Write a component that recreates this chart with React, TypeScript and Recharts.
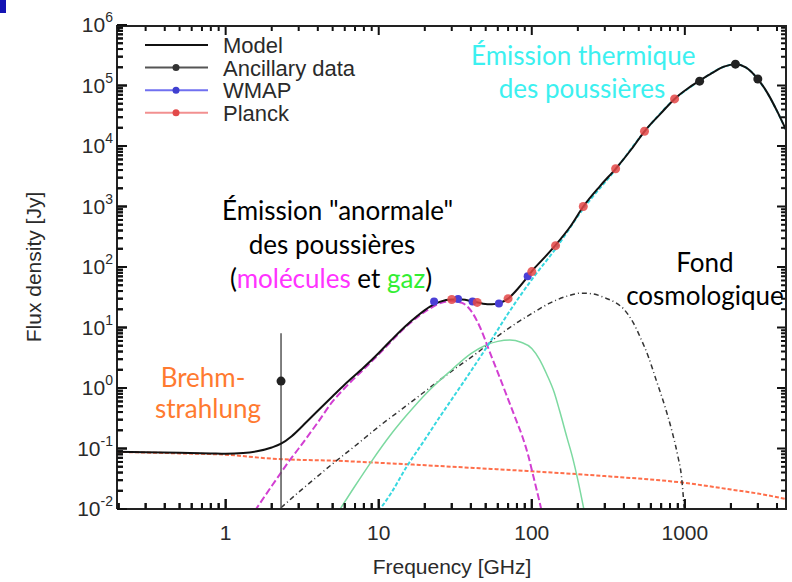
import React from "react";
import { ComposedChart, Line, XAxis, YAxis, Legend } from "recharts";

// frequency [GHz] -> flux density [Jy]
const model = [
  { f: 0.195, v: 0.088 }, { f: 0.3, v: 0.087 }, { f: 0.5, v: 0.085 }, { f: 0.8, v: 0.083 },
  { f: 1, v: 0.082 }, { f: 1.3, v: 0.084 }, { f: 1.6, v: 0.09 }, { f: 2, v: 0.104 },
  { f: 2.3, v: 0.12 }, { f: 2.7, v: 0.16 }, { f: 3.2, v: 0.24 }, { f: 4, v: 0.42 },
  { f: 5, v: 0.73 }, { f: 6, v: 1.14 }, { f: 8, v: 2.2 }, { f: 10, v: 3.8 },
  { f: 12, v: 6.1 }, { f: 15, v: 10.6 }, { f: 18, v: 15.8 }, { f: 21.5, v: 22 },
  { f: 25, v: 26.5 }, { f: 30, v: 29 }, { f: 35, v: 29 }, { f: 41, v: 27 },
  { f: 48, v: 24.8 }, { f: 55, v: 24.2 }, { f: 62, v: 25.5 }, { f: 70, v: 30 },
  { f: 80, v: 42 }, { f: 90, v: 60 }, { f: 100, v: 85 }, { f: 120, v: 140 },
  { f: 143, v: 230 }, { f: 180, v: 480 }, { f: 217, v: 1000 }, { f: 280, v: 2200 },
  { f: 353, v: 4200 }, { f: 450, v: 9000 }, { f: 545, v: 17500 }, { f: 700, v: 35000 },
  { f: 857, v: 60000 }, { f: 1050, v: 90000 }, { f: 1250, v: 120000 }, { f: 1500, v: 160000 },
  { f: 1800, v: 205000 }, { f: 2140, v: 225000 }, { f: 2500, v: 200000 }, { f: 3000, v: 128000 },
  { f: 3500, v: 72000 }, { f: 4000, v: 38000 }, { f: 4650, v: 17000 },
];

const freeFree = [
  { f: 0.195, v: 0.088 }, { f: 0.5, v: 0.083 }, { f: 1, v: 0.079 }, { f: 2, v: 0.068 },
  { f: 3, v: 0.065 }, { f: 5, v: 0.063 }, { f: 10, v: 0.058 }, { f: 30, v: 0.05 },
  { f: 100, v: 0.042 }, { f: 300, v: 0.035 }, { f: 1000, v: 0.027 }, { f: 2000, v: 0.021 },
  { f: 3000, v: 0.018 }, { f: 4650, v: 0.0145 },
];

const spinning = [
  { f: 1.55, v: 0.0093 }, { f: 2, v: 0.024 }, { f: 2.3, v: 0.04 }, { f: 2.62, v: 0.064 },
  { f: 3, v: 0.1 }, { f: 4, v: 0.27 }, { f: 5, v: 0.6 }, { f: 6, v: 1.0 },
  { f: 8, v: 2.05 }, { f: 10, v: 3.6 }, { f: 12, v: 5.8 }, { f: 15, v: 10.2 },
  { f: 18, v: 15 }, { f: 21.5, v: 20.5 }, { f: 25, v: 25 }, { f: 30, v: 27.5 },
  { f: 35, v: 25.5 }, { f: 40, v: 19 }, { f: 46, v: 10 }, { f: 53, v: 4 },
  { f: 60, v: 1.8 }, { f: 69, v: 0.72 }, { f: 78, v: 0.32 }, { f: 87, v: 0.155 },
  { f: 95, v: 0.075 }, { f: 101, v: 0.04 }, { f: 108, v: 0.02 }, { f: 116, v: 0.0093 },
];

const gas = [
  { f: 5.5, v: 0.0093 }, { f: 7, v: 0.024 }, { f: 9, v: 0.062 }, { f: 12, v: 0.17 },
  { f: 15, v: 0.34 }, { f: 21.5, v: 0.93 }, { f: 30, v: 2.0 }, { f: 40, v: 3.7 },
  { f: 50, v: 5.1 }, { f: 60, v: 5.9 }, { f: 72, v: 6.2 }, { f: 85, v: 5.7 },
  { f: 100, v: 4.5 }, { f: 112, v: 3.0 }, { f: 125, v: 1.7 }, { f: 140, v: 0.85 },
  { f: 152, v: 0.42 }, { f: 170, v: 0.15 }, { f: 185, v: 0.07 }, { f: 200, v: 0.03 },
  { f: 220, v: 0.0093 },
];

const thermal = [
  { f: 10, v: 0.0093 }, { f: 12, v: 0.018 }, { f: 15, v: 0.047 }, { f: 20, v: 0.14 },
  { f: 25, v: 0.33 }, { f: 30, v: 0.65 }, { f: 40, v: 1.9 }, { f: 53, v: 5.6 },
  { f: 70, v: 17 }, { f: 100, v: 62 }, { f: 143, v: 200 }, { f: 217, v: 920 },
  { f: 353, v: 4100 }, { f: 545, v: 17300 }, { f: 857, v: 59500 }, { f: 1250, v: 119000 },
  { f: 1800, v: 204000 }, { f: 2140, v: 224000 }, { f: 2500, v: 199000 }, { f: 3000, v: 127000 },
  { f: 3500, v: 71500 }, { f: 4000, v: 37800 }, { f: 4650, v: 16900 },
];

const cmb = [
  { f: 2.3, v: 0.0105 }, { f: 3, v: 0.019 }, { f: 4, v: 0.035 }, { f: 5, v: 0.056 },
  { f: 7, v: 0.11 }, { f: 10, v: 0.23 }, { f: 15, v: 0.5 }, { f: 22, v: 1.05 },
  { f: 30, v: 1.9 }, { f: 45, v: 4.0 }, { f: 60, v: 7.2 }, { f: 80, v: 12 },
  { f: 100, v: 17 }, { f: 130, v: 25 }, { f: 170, v: 33 }, { f: 210, v: 37 },
  { f: 250, v: 36 }, { f: 300, v: 31 }, { f: 350, v: 26 }, { f: 400, v: 20 },
  { f: 460, v: 12 }, { f: 510, v: 7 }, { f: 580, v: 3.2 }, { f: 650, v: 1.35 },
  { f: 740, v: 0.5 }, { f: 830, v: 0.18 }, { f: 900, v: 0.075 }, { f: 950, v: 0.035 },
  { f: 990, v: 0.0105 },
];

const wmap = [
  { f: 23, v: 27 }, { f: 33, v: 29.5 }, { f: 41, v: 27 }, { f: 61, v: 25 }, { f: 94, v: 70 },
];

const planck = [
  { f: 30, v: 29 }, { f: 44, v: 26 }, { f: 70, v: 30 }, { f: 100, v: 84 }, { f: 143, v: 225 },
  { f: 217, v: 1000 }, { f: 353, v: 4200 }, { f: 545, v: 17500 }, { f: 857, v: 60000 },
];

const ancillary = [
  { f: 2.3, v: 1.3 }, { f: 1249, v: 118000 }, { f: 2141, v: 225000 }, { f: 2998, v: 128000 },
];
// error bar of the 2.3 GHz point
const ancillaryErr = [{ f: 2.3, v: 0.0101 }, { f: 2.3, v: 8 }];

const X_DOMAIN = [0.195, 4650];
const Y_DOMAIN = [0.01, 1000000];
const X_MAJOR = [1, 10, 100, 1000];
const X_LABELS = ["1", "10", "100", "1000"];
const X_MINOR = [
  0.2, 0.3, 0.4, 0.5, 0.6, 0.7, 0.8, 0.9, 2, 3, 4, 5, 6, 7, 8, 9,
  20, 30, 40, 50, 60, 70, 80, 90, 200, 300, 400, 500, 600, 700, 800, 900, 2000, 3000, 4000,
];
const Y_MAJOR = [0.01, 0.1, 1, 10, 100, 1000, 10000, 100000, 1000000];
const Y_EXP = ["-2", "-1", "0", "1", "2", "3", "4", "5", "6"];
const Y_MINOR = Y_MAJOR.slice(0, -1).flatMap((m) =>
  [2, 3, 4, 5, 6, 7, 8, 9].map((k) => +(k * m).toPrecision(3))
);

// inward tick marks on the top and right edges, drawn as short segments
// through the chart's own log scales (~10px major / ~6px minor)
const [X0, X1] = X_DOMAIN;
const [Y0, Y1] = Y_DOMAIN;
const xTickSet = [...X_MAJOR.map((f) => [f, 1.463]), ...X_MINOR.map((f) => [f, 1.256])];
const yTickSet = [...Y_MAJOR.map((v) => [v, 1.162]), ...Y_MINOR.map((v) => [v, 1.094])];
const bottomTicks = xTickSet.flatMap(([f, k]) => [{ f, v: Y0 }, { f, v: Y0 * k }, { f, v: null }]);
const topTicks = xTickSet.flatMap(([f, k]) => [{ f, v: Y1 }, { f, v: Y1 / k }, { f, v: null }]);
const leftTicks = yTickSet.flatMap(([v, k]) => [{ f: X0, v }, { f: X0 * k, v }, { f: X0 * k, v: null }]);
const rightTicks = yTickSet.flatMap(([v, k]) => [{ f: X1, v }, { f: X1 / k, v }, { f: X1 / k, v: null }]);
const frameTopRight = [{ f: X0, v: Y1 }, { f: X1, v: Y1 }, { f: X1, v: Y0 }];

const LEGEND_ITEMS = [
  { name: "Model", line: "#111", dot: "" },
  { name: "Ancillary data", line: "#555", dot: "#333" },
  { name: "WMAP", line: "#7070f0", dot: "#4040d0" },
  { name: "Planck", line: "#f29090", dot: "#e24a4a" },
];

const AXIS_FONT = "'Liberation Sans', Arial, sans-serif";
const NOTE_FONT = "Lato, 'Open Sans', sans-serif";
const FRAME = { stroke: "#222", strokeWidth: 2 };
const TICK_COLOR = "#111";

function XTick(props: any) {
  const px = Number(props.x);
  const py = Number(props.y);
  const i = X_MAJOR.indexOf(props.payload.value);
  const len = i >= 0 ? 10 : 6;
  return (
    <g>
      <rect x={px - 1} y={py - len} width={2} height={len} fill={TICK_COLOR} />
      {i >= 0 && (
        <text x={px} y={py + 31} textAnchor="middle" fontSize={21} fill="#2a2a2a" fontFamily={AXIS_FONT}>
          {X_LABELS[i]}
        </text>
      )}
    </g>
  );
}

function YTick(props: any) {
  const px = Number(props.x);
  const py = Number(props.y);
  const i = Y_MAJOR.indexOf(props.payload.value);
  const len = i >= 0 ? 10 : 6;
  return (
    <g>
      <rect x={px} y={py - 1} width={len} height={2} fill={TICK_COLOR} />
      {i >= 0 && (
        <text x={px - 4} y={py + 7} textAnchor="end" fontSize={21} fill="#2a2a2a" fontFamily={AXIS_FONT}>
          10
          <tspan dy={-10} fontSize={14}>
            {Y_EXP[i]}
          </tspan>
        </text>
      )}
    </g>
  );
}

function LegendBox() {
  return (
    <svg width={280} height={100}>
      {LEGEND_ITEMS.map((it, i) => {
        const cy = 11 + i * 22.6;
        return (
          <g key={it.name}>
            <line x1={5} x2={68} y1={cy} y2={cy} stroke={it.line} strokeWidth={2} />
            {it.dot && <circle cx={36} cy={cy} r={3.5} fill={it.dot} />}
            <text x={83} y={cy + 8} fontSize={22} fill="#2a2a2a" fontFamily={AXIS_FONT}>
              {it.name}
            </text>
          </g>
        );
      })}
    </svg>
  );
}

function Note({ x, y, children }: { x: number; y: number; children: React.ReactNode }) {
  return (
    <div
      style={{
        position: "absolute",
        left: x - 110,
        top: y - 17,
        width: 220,
        height: 34,
        lineHeight: "34px",
        textAlign: "center",
        fontSize: 26,
        fontFamily: NOTE_FONT,
        color: "#000",
        whiteSpace: "nowrap",
        pointerEvents: "none",
      }}
    >
      {children}
    </div>
  );
}

const tickStyle = { stroke: TICK_COLOR, strokeWidth: 2, dot: false as const, isAnimationActive: false, legendType: "none" as const };

export default function App() {
  return (
    <div style={{ position: "absolute", left: 0, top: 0, width: 792, height: 582, background: "#fff" }}>
      <div style={{ position: "absolute", left: 0, top: 0, width: 6, height: 13, background: "#1414b4" }} />
      <ComposedChart width={792} height={582} margin={{ top: 25, right: 5, bottom: 0, left: 0 }}>
        <XAxis
          dataKey="f"
          type="number"
          scale="log"
          domain={X_DOMAIN}
          allowDataOverflow
          ticks={[...X_MAJOR, ...X_MINOR]}
          interval={0}
          height={73}
          tickSize={0}
          tickMargin={0}
          tickLine={false}
          axisLine={FRAME}
          tick={(p: any) => <XTick {...p} />}
          label={{
            value: "Frequency [GHz]",
            position: "insideBottom",
            offset: 8,
            style: { fontSize: 21, fill: "#2a2a2a", fontFamily: AXIS_FONT },
          }}
        />
        <YAxis
          type="number"
          scale="log"
          domain={Y_DOMAIN}
          allowDataOverflow
          ticks={[...Y_MAJOR, ...Y_MINOR]}
          interval={0}
          width={117}
          tickSize={0}
          tickMargin={0}
          tickLine={false}
          axisLine={FRAME}
          tick={(p: any) => <YTick {...p} />}
          label={{
            content: () => (
              <text
                x={33}
                y={267}
                transform="rotate(-90, 33, 267)"
                textAnchor="middle"
                dominantBaseline="central"
                fontSize={21}
                fill="#2a2a2a"
                fontFamily={AXIS_FONT}
              >
                Flux density [Jy]
              </text>
            ),
          }}
        />
        <Legend
          layout="vertical"
          align="center"
          verticalAlign="middle"
          wrapperStyle={{ left: 140, top: 34, width: 280, height: 100 }}
          content={() => <LegendBox />}
        />

        <Line data={freeFree} dataKey="v" type="monotone" stroke="#ff6e4a" strokeWidth={2} strokeDasharray="4 2" dot={false} isAnimationActive={false} />
        <Line data={cmb} dataKey="v" type="monotone" stroke="#333" strokeWidth={1.5} strokeDasharray="5 3 1 3" dot={false} isAnimationActive={false} />
        <Line data={gas} dataKey="v" type="monotone" stroke="#7cd9a0" strokeWidth={1.5} dot={false} isAnimationActive={false} />
        <Line data={spinning} dataKey="v" type="monotone" stroke="#d23fd2" strokeWidth={2} strokeDasharray="7 3" dot={false} isAnimationActive={false} />
        <Line data={thermal} dataKey="v" type="monotone" stroke="#38d8e0" strokeWidth={2} strokeDasharray="4 2" dot={false} isAnimationActive={false} />
        <Line data={ancillaryErr} dataKey="v" stroke="#555" strokeWidth={1.5} dot={false} isAnimationActive={false} />
        <Line data={model} dataKey="v" type="monotone" stroke="#111" strokeWidth={2} dot={false} isAnimationActive={false} />
        <Line data={wmap} dataKey="v" stroke="none" dot={{ r: 4, fill: "#4a3fd6", stroke: "none" }} isAnimationActive={false} />
        <Line data={planck} dataKey="v" stroke="none" dot={{ r: 4.5, fill: "#e44646", fillOpacity: 0.85, stroke: "none" }} isAnimationActive={false} />
        <Line data={ancillary} dataKey="v" stroke="none" dot={{ r: 4.5, fill: "#222", stroke: "none" }} isAnimationActive={false} />

        <Line data={bottomTicks} dataKey="v" {...tickStyle} />
        <Line data={topTicks} dataKey="v" {...tickStyle} />
        <Line data={leftTicks} dataKey="v" {...tickStyle} />
        <Line data={rightTicks} dataKey="v" {...tickStyle} />
        <Line data={frameTopRight} dataKey="v" stroke="#222" strokeWidth={4} dot={false} isAnimationActive={false} legendType="none" />
      </ComposedChart>

      <Note x={581} y={55}><span style={{ color: "#3cf0f0" }}>Émission thermique</span></Note>
      <Note x={582} y={88}><span style={{ color: "#3cf0f0" }}>des poussières</span></Note>
      <Note x={332} y={210}>Émission "anormale"</Note>
      <Note x={332} y={244}>des poussières</Note>
      <Note x={331} y={278}>
        (<span style={{ color: "#ff33ff" }}>molécules</span> et <span style={{ color: "#33ee33" }}>gaz</span>)
      </Note>
      <Note x={705} y={262}>Fond</Note>
      <Note x={705} y={295}>cosmologique</Note>
      <Note x={203} y={377}><span style={{ color: "#ff7a30" }}>Brehm-</span></Note>
      <Note x={208} y={408}><span style={{ color: "#ff7a30" }}>strahlung</span></Note>
    </div>
  );
}
